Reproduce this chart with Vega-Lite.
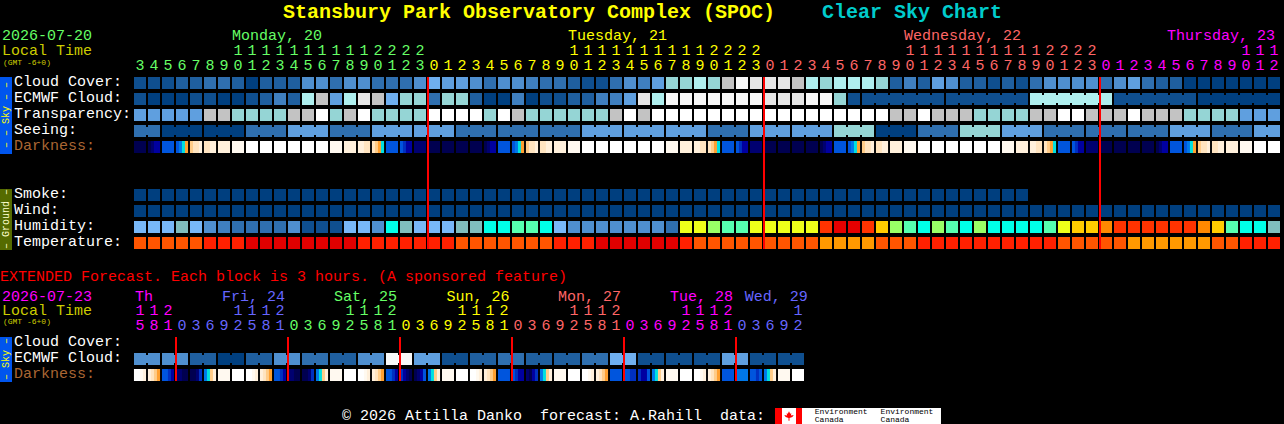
{
"$schema":"https://vega.github.io/schema/vega-lite/v6.json",
"width":1284,"height":424,
"autosize":{"type":"fit","contains":"padding"},
"padding":0,
"background":"#000000",
"config":{"view":{"stroke":null},"text":{"font":"Liberation Mono"}},
"encoding":{
"x":{"field":"col","type":"quantitative","axis":null,"scale":{"domain":[-10,81.7143],"zero":false,"nice":false}},
"y":{"field":"row","type":"quantitative","axis":null,"scale":{"domain":[-0.1875,26.3125],"zero":false,"nice":false,"reverse":true}},
"color":{"field":"lvl","type":"nominal","legend":null,"scale":{
"domain":["b0","b1","b2","b3","b4","b5","b6","b7","tl","t","g","gl","f","w","h7","ht","hc","hg","hl","hy","ha","hn","ho","hr","o","r1","r2","a","d0","d1","d2","d3","d4","d5","d6","d7","d8","d9","d10","d11","mon","tue","wed","thu","fri","cyan","amber","brown","red","black","white","sky","olive","pale"],
"range":["#003F7F","#0F4F8F","#1F5F9F","#2F6FAF","#3F7FBF","#4F8FCF","#5F9FDF","#6FAFEF","#AFEFEF","#95D5D5","#C3C3C3","#E6E6E6","#F8F8F8","#FFFFFF","#78B8F8","#80BEBE","#00FFE8","#55FFB0","#99FF66","#EEFF1A","#FFCC00","#FF8800","#FF3300","#E60000","#FF5500","#FF2000","#E00000","#FF9900","#000050","#000070","#0000A0","#0030C0","#0055DD","#0078E8","#00E0E0","#FFA030","#FFCC88","#FFE4C0","#FFF0DC","#FFF9F0","#66FF66","#FFFF00","#FF6666","#FF00FF","#6666FF","#00CCCC","#CCCC00","#AA6633","#FF0000","#000000","#FFFFFF","#0055EE","#556B00","#FFFFCC"]}}
},
"layer":[
{"data":{"name":"bands"},"mark":{"type":"rect","width":12},"encoding":{"y2":{"field":"end"}}},
{"data":{"name":"blocks"},"mark":{"type":"rect","width":12,"height":12}},
{"data":{"name":"blocks"},"transform":[{"filter":"datum.link"}],"mark":{"type":"rect","width":2.2,"height":8,"xOffset":7}},
{"data":{"name":"shades"},"mark":{"type":"rect","width":3.1,"height":12}},
{"data":{"name":"midnights"},"mark":{"type":"rule","strokeWidth":2,"xOffset":-6},"encoding":{"y2":{"field":"end"}}},
{"data":{"name":"logo"},"mark":{"type":"rect"},"encoding":{"x2":{"field":"colEnd"},"y2":{"field":"end"}}},
{"data":{"values":[{"col":46.357,"row":25.8125,"lvl":"red"}]},"mark":{"type":"point","filled":true,"opacity":1,"size":90,"shape":"M0,-1L.25,-.5L.5,-.6L.4,-.1L1,-.2L.7,.2L.1,.4L.1,1L-.1,1L-.1,.4L-.7,.2L-1,-.2L-.4,-.1L-.5,-.6L-.25,-.5Z"}},
{"data":{"name":"ticks"},"mark":{"type":"text","align":"center","baseline":"middle","fontSize":15},"encoding":{"text":{"field":"txt"}}},
{"data":{"name":"labels"},"mark":{"type":"text","align":"left","baseline":"middle","fontSize":15},"encoding":{"text":{"field":"txt"}}},
{"data":{"name":"titles"},"mark":{"type":"text","align":"left","baseline":"middle","fontSize":20,"fontWeight":"bold"},"encoding":{"text":{"field":"txt"}}},
{"data":{"name":"small"},"mark":{"type":"text","align":"left","baseline":"middle","fontSize":8},"encoding":{"text":{"field":"txt"}}},
{"data":{"name":"sideText"},"mark":{"type":"text","align":"center","baseline":"middle","angle":270,"fontSize":10},"encoding":{"text":{"field":"txt"}}}
],
"datasets":{
"bands":[
{"col":-9.571,"row":4.625,"end":9.44,"lvl":"sky"},
{"col":-9.571,"row":11.625,"end":15.44,"lvl":"olive"},
{"col":-9.571,"row":20.875,"end":23.69,"lvl":"sky"}
],
"midnights":[
{"col":21,"row":4.625,"end":15.375,"lvl":"red"},
{"col":45,"row":4.625,"end":15.375,"lvl":"red"},
{"col":69,"row":4.625,"end":15.375,"lvl":"red"},
{"col":3,"row":20.875,"end":23.625,"lvl":"red"},
{"col":11,"row":20.875,"end":23.625,"lvl":"red"},
{"col":19,"row":20.875,"end":23.625,"lvl":"red"},
{"col":27,"row":20.875,"end":23.625,"lvl":"red"},
{"col":35,"row":20.875,"end":23.625,"lvl":"red"},
{"col":43,"row":20.875,"end":23.625,"lvl":"red"}
],
"logo":[
{"col":45.357,"colEnd":57.214,"row":25.3125,"end":26.3125,"lvl":"white"},
{"col":45.357,"colEnd":45.857,"row":25.3125,"end":26.3125,"lvl":"red"},
{"col":46.857,"colEnd":47.286,"row":25.3125,"end":26.3125,"lvl":"red"}
],
"titles":[
{"col":10.21,"row":0.56,"txt":"Stansbury Park Observatory Complex (SPOC)","lvl":"tue"},
{"col":48.71,"row":0.56,"txt":"Clear Sky Chart","lvl":"cyan"}
],
"labels":[
{"col":-9.86,"row":2,"txt":"2026-07-20","lvl":"mon"},
{"col":-9.86,"row":2.94,"txt":"Local Time","lvl":"amber"},
{"col":6.57,"row":2,"txt":"Monday, 20","lvl":"mon"},
{"col":30.57,"row":2,"txt":"Tuesday, 21","lvl":"tue"},
{"col":54.57,"row":2,"txt":"Wednesday, 22","lvl":"wed"},
{"col":73.36,"row":2,"txt":"Thursday, 23","lvl":"thu"},
{"col":-9,"row":4.9,"txt":"Cloud Cover:","lvl":"white"},
{"col":-9,"row":5.9,"txt":"ECMWF Cloud:","lvl":"white"},
{"col":-9,"row":6.9,"txt":"Transparency:","lvl":"white"},
{"col":-9,"row":7.9,"txt":"Seeing:","lvl":"white"},
{"col":-9,"row":8.9,"txt":"Darkness:","lvl":"brown"},
{"col":-9,"row":11.9,"txt":"Smoke:","lvl":"white"},
{"col":-9,"row":12.9,"txt":"Wind:","lvl":"white"},
{"col":-9,"row":13.9,"txt":"Humidity:","lvl":"white"},
{"col":-9,"row":14.9,"txt":"Temperature:","lvl":"white"},
{"col":-10,"row":17.06,"txt":"EXTENDED Forecast. Each block is 3 hours. (A sponsored feature)","lvl":"red"},
{"col":-9.86,"row":18.3,"txt":"2026-07-23","lvl":"thu"},
{"col":-9.86,"row":19.19,"txt":"Local Time","lvl":"amber"},
{"col":-0.36,"row":18.3,"txt":"Th","lvl":"thu"},
{"col":5.86,"row":18.3,"txt":"Fri, 24","lvl":"fri"},
{"col":13.86,"row":18.3,"txt":"Sat, 25","lvl":"mon"},
{"col":21.9,"row":18.3,"txt":"Sun, 26","lvl":"tue"},
{"col":29.86,"row":18.3,"txt":"Mon, 27","lvl":"wed"},
{"col":37.86,"row":18.3,"txt":"Tue, 28","lvl":"thu"},
{"col":43.2,"row":18.3,"txt":"Wed, 29","lvl":"fri"},
{"col":-9,"row":21.15,"txt":"Cloud Cover:","lvl":"white"},
{"col":-9,"row":22.15,"txt":"ECMWF Cloud:","lvl":"white"},
{"col":-9,"row":23.15,"txt":"Darkness:","lvl":"brown"},
{"col":14.43,"row":25.78,"txt":"© 2026 Attilla Danko\u00a0\u00a0forecast: A.Rahill\u00a0\u00a0data:","lvl":"white"}
],
"small":[
{"col":-9.79,"row":3.72,"txt":"(GMT -6+0)","lvl":"amber"},
{"col":-9.79,"row":19.96,"txt":"(GMT -6+0)","lvl":"amber"},
{"col":48.2,"row":25.56,"txt":"Environment","lvl":"black"},
{"col":48.2,"row":26.06,"txt":"Canada","lvl":"black"},
{"col":52.9,"row":25.56,"txt":"Environment","lvl":"black"},
{"col":52.9,"row":26.06,"txt":"Canada","lvl":"black"}
],
"sideText":[
{"col":-9.571,"row":7,"txt":"– – Sky – –","lvl":"tue"},
{"col":-9.571,"row":13.5,"txt":"– Ground –","lvl":"pale"},
{"col":-9.571,"row":22.25,"txt":"– Sky –","lvl":"tue"}
],
"ticks":[
{"col":7,"row":2.94,"txt":"1","lvl":"mon"},{"col":8,"row":2.94,"txt":"1","lvl":"mon"},{"col":9,"row":2.94,"txt":"1","lvl":"mon"},{"col":10,"row":2.94,"txt":"1","lvl":"mon"},{"col":11,"row":2.94,"txt":"1","lvl":"mon"},{"col":12,"row":2.94,"txt":"1","lvl":"mon"},{"col":13,"row":2.94,"txt":"1","lvl":"mon"},{"col":14,"row":2.94,"txt":"1","lvl":"mon"},{"col":15,"row":2.94,"txt":"1","lvl":"mon"},{"col":16,"row":2.94,"txt":"1","lvl":"mon"},{"col":17,"row":2.94,"txt":"2","lvl":"mon"},{"col":18,"row":2.94,"txt":"2","lvl":"mon"},{"col":19,"row":2.94,"txt":"2","lvl":"mon"},{"col":20,"row":2.94,"txt":"2","lvl":"mon"},
{"col":31,"row":2.94,"txt":"1","lvl":"tue"},{"col":32,"row":2.94,"txt":"1","lvl":"tue"},{"col":33,"row":2.94,"txt":"1","lvl":"tue"},{"col":34,"row":2.94,"txt":"1","lvl":"tue"},{"col":35,"row":2.94,"txt":"1","lvl":"tue"},{"col":36,"row":2.94,"txt":"1","lvl":"tue"},{"col":37,"row":2.94,"txt":"1","lvl":"tue"},{"col":38,"row":2.94,"txt":"1","lvl":"tue"},{"col":39,"row":2.94,"txt":"1","lvl":"tue"},{"col":40,"row":2.94,"txt":"1","lvl":"tue"},{"col":41,"row":2.94,"txt":"2","lvl":"tue"},{"col":42,"row":2.94,"txt":"2","lvl":"tue"},{"col":43,"row":2.94,"txt":"2","lvl":"tue"},{"col":44,"row":2.94,"txt":"2","lvl":"tue"},
{"col":55,"row":2.94,"txt":"1","lvl":"wed"},{"col":56,"row":2.94,"txt":"1","lvl":"wed"},{"col":57,"row":2.94,"txt":"1","lvl":"wed"},{"col":58,"row":2.94,"txt":"1","lvl":"wed"},{"col":59,"row":2.94,"txt":"1","lvl":"wed"},{"col":60,"row":2.94,"txt":"1","lvl":"wed"},{"col":61,"row":2.94,"txt":"1","lvl":"wed"},{"col":62,"row":2.94,"txt":"1","lvl":"wed"},{"col":63,"row":2.94,"txt":"1","lvl":"wed"},{"col":64,"row":2.94,"txt":"1","lvl":"wed"},{"col":65,"row":2.94,"txt":"2","lvl":"wed"},{"col":66,"row":2.94,"txt":"2","lvl":"wed"},{"col":67,"row":2.94,"txt":"2","lvl":"wed"},{"col":68,"row":2.94,"txt":"2","lvl":"wed"},
{"col":79,"row":2.94,"txt":"1","lvl":"thu"},{"col":80,"row":2.94,"txt":"1","lvl":"thu"},{"col":81,"row":2.94,"txt":"1","lvl":"thu"},
{"col":0,"row":3.875,"txt":"3","lvl":"mon"},{"col":1,"row":3.875,"txt":"4","lvl":"mon"},{"col":2,"row":3.875,"txt":"5","lvl":"mon"},{"col":3,"row":3.875,"txt":"6","lvl":"mon"},{"col":4,"row":3.875,"txt":"7","lvl":"mon"},{"col":5,"row":3.875,"txt":"8","lvl":"mon"},{"col":6,"row":3.875,"txt":"9","lvl":"mon"},{"col":7,"row":3.875,"txt":"0","lvl":"mon"},{"col":8,"row":3.875,"txt":"1","lvl":"mon"},{"col":9,"row":3.875,"txt":"2","lvl":"mon"},{"col":10,"row":3.875,"txt":"3","lvl":"mon"},{"col":11,"row":3.875,"txt":"4","lvl":"mon"},{"col":12,"row":3.875,"txt":"5","lvl":"mon"},{"col":13,"row":3.875,"txt":"6","lvl":"mon"},{"col":14,"row":3.875,"txt":"7","lvl":"mon"},{"col":15,"row":3.875,"txt":"8","lvl":"mon"},{"col":16,"row":3.875,"txt":"9","lvl":"mon"},{"col":17,"row":3.875,"txt":"0","lvl":"mon"},{"col":18,"row":3.875,"txt":"1","lvl":"mon"},{"col":19,"row":3.875,"txt":"2","lvl":"mon"},{"col":20,"row":3.875,"txt":"3","lvl":"mon"},
{"col":21,"row":3.875,"txt":"0","lvl":"tue"},{"col":22,"row":3.875,"txt":"1","lvl":"tue"},{"col":23,"row":3.875,"txt":"2","lvl":"tue"},{"col":24,"row":3.875,"txt":"3","lvl":"tue"},{"col":25,"row":3.875,"txt":"4","lvl":"tue"},{"col":26,"row":3.875,"txt":"5","lvl":"tue"},{"col":27,"row":3.875,"txt":"6","lvl":"tue"},{"col":28,"row":3.875,"txt":"7","lvl":"tue"},{"col":29,"row":3.875,"txt":"8","lvl":"tue"},{"col":30,"row":3.875,"txt":"9","lvl":"tue"},{"col":31,"row":3.875,"txt":"0","lvl":"tue"},{"col":32,"row":3.875,"txt":"1","lvl":"tue"},{"col":33,"row":3.875,"txt":"2","lvl":"tue"},{"col":34,"row":3.875,"txt":"3","lvl":"tue"},{"col":35,"row":3.875,"txt":"4","lvl":"tue"},{"col":36,"row":3.875,"txt":"5","lvl":"tue"},{"col":37,"row":3.875,"txt":"6","lvl":"tue"},{"col":38,"row":3.875,"txt":"7","lvl":"tue"},{"col":39,"row":3.875,"txt":"8","lvl":"tue"},{"col":40,"row":3.875,"txt":"9","lvl":"tue"},{"col":41,"row":3.875,"txt":"0","lvl":"tue"},{"col":42,"row":3.875,"txt":"1","lvl":"tue"},{"col":43,"row":3.875,"txt":"2","lvl":"tue"},{"col":44,"row":3.875,"txt":"3","lvl":"tue"},
{"col":45,"row":3.875,"txt":"0","lvl":"wed"},{"col":46,"row":3.875,"txt":"1","lvl":"wed"},{"col":47,"row":3.875,"txt":"2","lvl":"wed"},{"col":48,"row":3.875,"txt":"3","lvl":"wed"},{"col":49,"row":3.875,"txt":"4","lvl":"wed"},{"col":50,"row":3.875,"txt":"5","lvl":"wed"},{"col":51,"row":3.875,"txt":"6","lvl":"wed"},{"col":52,"row":3.875,"txt":"7","lvl":"wed"},{"col":53,"row":3.875,"txt":"8","lvl":"wed"},{"col":54,"row":3.875,"txt":"9","lvl":"wed"},{"col":55,"row":3.875,"txt":"0","lvl":"wed"},{"col":56,"row":3.875,"txt":"1","lvl":"wed"},{"col":57,"row":3.875,"txt":"2","lvl":"wed"},{"col":58,"row":3.875,"txt":"3","lvl":"wed"},{"col":59,"row":3.875,"txt":"4","lvl":"wed"},{"col":60,"row":3.875,"txt":"5","lvl":"wed"},{"col":61,"row":3.875,"txt":"6","lvl":"wed"},{"col":62,"row":3.875,"txt":"7","lvl":"wed"},{"col":63,"row":3.875,"txt":"8","lvl":"wed"},{"col":64,"row":3.875,"txt":"9","lvl":"wed"},{"col":65,"row":3.875,"txt":"0","lvl":"wed"},{"col":66,"row":3.875,"txt":"1","lvl":"wed"},{"col":67,"row":3.875,"txt":"2","lvl":"wed"},{"col":68,"row":3.875,"txt":"3","lvl":"wed"},
{"col":69,"row":3.875,"txt":"0","lvl":"thu"},{"col":70,"row":3.875,"txt":"1","lvl":"thu"},{"col":71,"row":3.875,"txt":"2","lvl":"thu"},{"col":72,"row":3.875,"txt":"3","lvl":"thu"},{"col":73,"row":3.875,"txt":"4","lvl":"thu"},{"col":74,"row":3.875,"txt":"5","lvl":"thu"},{"col":75,"row":3.875,"txt":"6","lvl":"thu"},{"col":76,"row":3.875,"txt":"7","lvl":"thu"},{"col":77,"row":3.875,"txt":"8","lvl":"thu"},{"col":78,"row":3.875,"txt":"9","lvl":"thu"},{"col":79,"row":3.875,"txt":"0","lvl":"thu"},{"col":80,"row":3.875,"txt":"1","lvl":"thu"},{"col":81,"row":3.875,"txt":"2","lvl":"thu"},
{"col":0,"row":19.19,"txt":"1","lvl":"thu"},{"col":1,"row":19.19,"txt":"1","lvl":"thu"},{"col":2,"row":19.19,"txt":"2","lvl":"thu"},
{"col":7,"row":19.19,"txt":"1","lvl":"fri"},{"col":8,"row":19.19,"txt":"1","lvl":"fri"},{"col":9,"row":19.19,"txt":"1","lvl":"fri"},{"col":10,"row":19.19,"txt":"2","lvl":"fri"},
{"col":15,"row":19.19,"txt":"1","lvl":"mon"},{"col":16,"row":19.19,"txt":"1","lvl":"mon"},{"col":17,"row":19.19,"txt":"1","lvl":"mon"},{"col":18,"row":19.19,"txt":"2","lvl":"mon"},
{"col":23,"row":19.19,"txt":"1","lvl":"tue"},{"col":24,"row":19.19,"txt":"1","lvl":"tue"},{"col":25,"row":19.19,"txt":"1","lvl":"tue"},{"col":26,"row":19.19,"txt":"2","lvl":"tue"},
{"col":31,"row":19.19,"txt":"1","lvl":"wed"},{"col":32,"row":19.19,"txt":"1","lvl":"wed"},{"col":33,"row":19.19,"txt":"1","lvl":"wed"},{"col":34,"row":19.19,"txt":"2","lvl":"wed"},
{"col":39,"row":19.19,"txt":"1","lvl":"thu"},{"col":40,"row":19.19,"txt":"1","lvl":"thu"},{"col":41,"row":19.19,"txt":"1","lvl":"thu"},{"col":42,"row":19.19,"txt":"2","lvl":"thu"},
{"col":47,"row":19.19,"txt":"1","lvl":"fri"},
{"col":0,"row":20.125,"txt":"5","lvl":"thu"},{"col":1,"row":20.125,"txt":"8","lvl":"thu"},{"col":2,"row":20.125,"txt":"1","lvl":"thu"},
{"col":3,"row":20.125,"txt":"0","lvl":"fri"},{"col":4,"row":20.125,"txt":"3","lvl":"fri"},{"col":5,"row":20.125,"txt":"6","lvl":"fri"},{"col":6,"row":20.125,"txt":"9","lvl":"fri"},{"col":7,"row":20.125,"txt":"2","lvl":"fri"},{"col":8,"row":20.125,"txt":"5","lvl":"fri"},{"col":9,"row":20.125,"txt":"8","lvl":"fri"},{"col":10,"row":20.125,"txt":"1","lvl":"fri"},
{"col":11,"row":20.125,"txt":"0","lvl":"mon"},{"col":12,"row":20.125,"txt":"3","lvl":"mon"},{"col":13,"row":20.125,"txt":"6","lvl":"mon"},{"col":14,"row":20.125,"txt":"9","lvl":"mon"},{"col":15,"row":20.125,"txt":"2","lvl":"mon"},{"col":16,"row":20.125,"txt":"5","lvl":"mon"},{"col":17,"row":20.125,"txt":"8","lvl":"mon"},{"col":18,"row":20.125,"txt":"1","lvl":"mon"},
{"col":19,"row":20.125,"txt":"0","lvl":"tue"},{"col":20,"row":20.125,"txt":"3","lvl":"tue"},{"col":21,"row":20.125,"txt":"6","lvl":"tue"},{"col":22,"row":20.125,"txt":"9","lvl":"tue"},{"col":23,"row":20.125,"txt":"2","lvl":"tue"},{"col":24,"row":20.125,"txt":"5","lvl":"tue"},{"col":25,"row":20.125,"txt":"8","lvl":"tue"},{"col":26,"row":20.125,"txt":"1","lvl":"tue"},
{"col":27,"row":20.125,"txt":"0","lvl":"wed"},{"col":28,"row":20.125,"txt":"3","lvl":"wed"},{"col":29,"row":20.125,"txt":"6","lvl":"wed"},{"col":30,"row":20.125,"txt":"9","lvl":"wed"},{"col":31,"row":20.125,"txt":"2","lvl":"wed"},{"col":32,"row":20.125,"txt":"5","lvl":"wed"},{"col":33,"row":20.125,"txt":"8","lvl":"wed"},{"col":34,"row":20.125,"txt":"1","lvl":"wed"},
{"col":35,"row":20.125,"txt":"0","lvl":"thu"},{"col":36,"row":20.125,"txt":"3","lvl":"thu"},{"col":37,"row":20.125,"txt":"6","lvl":"thu"},{"col":38,"row":20.125,"txt":"9","lvl":"thu"},{"col":39,"row":20.125,"txt":"2","lvl":"thu"},{"col":40,"row":20.125,"txt":"5","lvl":"thu"},{"col":41,"row":20.125,"txt":"8","lvl":"thu"},{"col":42,"row":20.125,"txt":"1","lvl":"thu"},
{"col":43,"row":20.125,"txt":"0","lvl":"fri"},{"col":44,"row":20.125,"txt":"3","lvl":"fri"},{"col":45,"row":20.125,"txt":"6","lvl":"fri"},{"col":46,"row":20.125,"txt":"9","lvl":"fri"},{"col":47,"row":20.125,"txt":"2","lvl":"fri"}
],
"shades":[
{"col":0.679,"row":9,"lvl":"d0"},{"col":0.893,"row":9,"lvl":"d1"},{"col":1.107,"row":9,"lvl":"d2"},{"col":1.321,"row":9,"lvl":"d2"},
{"col":2.679,"row":9,"lvl":"d4"},{"col":2.893,"row":9,"lvl":"d5"},{"col":3.107,"row":9,"lvl":"d6"},{"col":3.321,"row":9,"lvl":"d7"},
{"col":3.679,"row":9,"lvl":"d8"},{"col":3.893,"row":9,"lvl":"d9"},{"col":4.107,"row":9,"lvl":"d9"},{"col":4.321,"row":9,"lvl":"d10"},
{"col":4.679,"row":9,"lvl":"d9"},{"col":4.893,"row":9,"lvl":"d9"},{"col":5.107,"row":9,"lvl":"d10"},{"col":5.321,"row":9,"lvl":"d10"},
{"col":15.679,"row":9,"lvl":"d10"},{"col":15.893,"row":9,"lvl":"d10"},{"col":16.107,"row":9,"lvl":"d9"},{"col":16.321,"row":9,"lvl":"d9"},
{"col":16.679,"row":9,"lvl":"d9"},{"col":16.893,"row":9,"lvl":"d8"},{"col":17.107,"row":9,"lvl":"d7"},{"col":17.321,"row":9,"lvl":"d6"},
{"col":18.679,"row":9,"lvl":"d4"},{"col":18.893,"row":9,"lvl":"d3"},{"col":19.107,"row":9,"lvl":"d2"},{"col":19.321,"row":9,"lvl":"d2"},
{"col":24.679,"row":9,"lvl":"d0"},{"col":24.893,"row":9,"lvl":"d1"},{"col":25.107,"row":9,"lvl":"d2"},{"col":25.321,"row":9,"lvl":"d2"},
{"col":26.679,"row":9,"lvl":"d4"},{"col":26.893,"row":9,"lvl":"d5"},{"col":27.107,"row":9,"lvl":"d6"},{"col":27.321,"row":9,"lvl":"d7"},
{"col":27.679,"row":9,"lvl":"d8"},{"col":27.893,"row":9,"lvl":"d9"},{"col":28.107,"row":9,"lvl":"d9"},{"col":28.321,"row":9,"lvl":"d10"},
{"col":28.679,"row":9,"lvl":"d9"},{"col":28.893,"row":9,"lvl":"d9"},{"col":29.107,"row":9,"lvl":"d10"},{"col":29.321,"row":9,"lvl":"d10"},
{"col":39.679,"row":9,"lvl":"d10"},{"col":39.893,"row":9,"lvl":"d10"},{"col":40.107,"row":9,"lvl":"d9"},{"col":40.321,"row":9,"lvl":"d9"},
{"col":40.679,"row":9,"lvl":"d9"},{"col":40.893,"row":9,"lvl":"d8"},{"col":41.107,"row":9,"lvl":"d7"},{"col":41.321,"row":9,"lvl":"d6"},
{"col":42.679,"row":9,"lvl":"d4"},{"col":42.893,"row":9,"lvl":"d3"},{"col":43.107,"row":9,"lvl":"d2"},{"col":43.321,"row":9,"lvl":"d2"},
{"col":48.679,"row":9,"lvl":"d0"},{"col":48.893,"row":9,"lvl":"d1"},{"col":49.107,"row":9,"lvl":"d2"},{"col":49.321,"row":9,"lvl":"d2"},
{"col":50.679,"row":9,"lvl":"d4"},{"col":50.893,"row":9,"lvl":"d5"},{"col":51.107,"row":9,"lvl":"d6"},{"col":51.321,"row":9,"lvl":"d7"},
{"col":51.679,"row":9,"lvl":"d8"},{"col":51.893,"row":9,"lvl":"d9"},{"col":52.107,"row":9,"lvl":"d9"},{"col":52.321,"row":9,"lvl":"d10"},
{"col":52.679,"row":9,"lvl":"d9"},{"col":52.893,"row":9,"lvl":"d9"},{"col":53.107,"row":9,"lvl":"d10"},{"col":53.321,"row":9,"lvl":"d10"},
{"col":63.679,"row":9,"lvl":"d10"},{"col":63.893,"row":9,"lvl":"d10"},{"col":64.107,"row":9,"lvl":"d9"},{"col":64.321,"row":9,"lvl":"d9"},
{"col":64.679,"row":9,"lvl":"d9"},{"col":64.893,"row":9,"lvl":"d8"},{"col":65.107,"row":9,"lvl":"d7"},{"col":65.321,"row":9,"lvl":"d6"},
{"col":66.679,"row":9,"lvl":"d4"},{"col":66.893,"row":9,"lvl":"d3"},{"col":67.107,"row":9,"lvl":"d2"},{"col":67.321,"row":9,"lvl":"d2"},
{"col":72.679,"row":9,"lvl":"d0"},{"col":72.893,"row":9,"lvl":"d1"},{"col":73.107,"row":9,"lvl":"d2"},{"col":73.321,"row":9,"lvl":"d2"},
{"col":74.679,"row":9,"lvl":"d4"},{"col":74.893,"row":9,"lvl":"d5"},{"col":75.107,"row":9,"lvl":"d6"},{"col":75.321,"row":9,"lvl":"d7"},
{"col":75.679,"row":9,"lvl":"d8"},{"col":75.893,"row":9,"lvl":"d9"},{"col":76.107,"row":9,"lvl":"d9"},{"col":76.321,"row":9,"lvl":"d10"},
{"col":76.679,"row":9,"lvl":"d9"},{"col":76.893,"row":9,"lvl":"d9"},{"col":77.107,"row":9,"lvl":"d10"},{"col":77.321,"row":9,"lvl":"d10"},
{"col":-0.321,"row":23.25,"lvl":"w"},{"col":-0.107,"row":23.25,"lvl":"w"},{"col":0.107,"row":23.25,"lvl":"d11"},{"col":0.321,"row":23.25,"lvl":"d10"},
{"col":0.679,"row":23.25,"lvl":"d10"},{"col":0.893,"row":23.25,"lvl":"d9"},{"col":1.107,"row":23.25,"lvl":"d8"},{"col":1.321,"row":23.25,"lvl":"d7"},
{"col":1.679,"row":23.25,"lvl":"d4"},{"col":1.893,"row":23.25,"lvl":"d4"},{"col":2.107,"row":23.25,"lvl":"d3"},{"col":2.321,"row":23.25,"lvl":"d2"},
{"col":2.679,"row":23.25,"lvl":"d1"},{"col":2.893,"row":23.25,"lvl":"d1"},{"col":3.107,"row":23.25,"lvl":"d0"},{"col":3.321,"row":23.25,"lvl":"d0"},
{"col":3.679,"row":23.25,"lvl":"d0"},{"col":3.893,"row":23.25,"lvl":"d0"},{"col":4.107,"row":23.25,"lvl":"d1"},{"col":4.321,"row":23.25,"lvl":"d3"},
{"col":4.679,"row":23.25,"lvl":"d5"},{"col":4.893,"row":23.25,"lvl":"d6"},{"col":5.107,"row":23.25,"lvl":"d8"},{"col":5.321,"row":23.25,"lvl":"d10"},
{"col":7.679,"row":23.25,"lvl":"w"},{"col":7.893,"row":23.25,"lvl":"w"},{"col":8.107,"row":23.25,"lvl":"d11"},{"col":8.321,"row":23.25,"lvl":"d10"},
{"col":8.679,"row":23.25,"lvl":"d10"},{"col":8.893,"row":23.25,"lvl":"d9"},{"col":9.107,"row":23.25,"lvl":"d8"},{"col":9.321,"row":23.25,"lvl":"d7"},
{"col":9.679,"row":23.25,"lvl":"d4"},{"col":9.893,"row":23.25,"lvl":"d4"},{"col":10.107,"row":23.25,"lvl":"d3"},{"col":10.321,"row":23.25,"lvl":"d2"},
{"col":10.679,"row":23.25,"lvl":"d1"},{"col":10.893,"row":23.25,"lvl":"d1"},{"col":11.107,"row":23.25,"lvl":"d0"},{"col":11.321,"row":23.25,"lvl":"d0"},
{"col":11.679,"row":23.25,"lvl":"d0"},{"col":11.893,"row":23.25,"lvl":"d0"},{"col":12.107,"row":23.25,"lvl":"d1"},{"col":12.321,"row":23.25,"lvl":"d3"},
{"col":12.679,"row":23.25,"lvl":"d5"},{"col":12.893,"row":23.25,"lvl":"d6"},{"col":13.107,"row":23.25,"lvl":"d8"},{"col":13.321,"row":23.25,"lvl":"d10"},
{"col":15.679,"row":23.25,"lvl":"w"},{"col":15.893,"row":23.25,"lvl":"w"},{"col":16.107,"row":23.25,"lvl":"d11"},{"col":16.321,"row":23.25,"lvl":"d10"},
{"col":16.679,"row":23.25,"lvl":"d10"},{"col":16.893,"row":23.25,"lvl":"d9"},{"col":17.107,"row":23.25,"lvl":"d8"},{"col":17.321,"row":23.25,"lvl":"d7"},
{"col":17.679,"row":23.25,"lvl":"d4"},{"col":17.893,"row":23.25,"lvl":"d4"},{"col":18.107,"row":23.25,"lvl":"d3"},{"col":18.321,"row":23.25,"lvl":"d2"},
{"col":18.679,"row":23.25,"lvl":"d3"},{"col":18.893,"row":23.25,"lvl":"d2"},{"col":19.107,"row":23.25,"lvl":"d1"},{"col":19.321,"row":23.25,"lvl":"d0"},
{"col":19.679,"row":23.25,"lvl":"d0"},{"col":19.893,"row":23.25,"lvl":"d1"},{"col":20.107,"row":23.25,"lvl":"d2"},{"col":20.321,"row":23.25,"lvl":"d4"},
{"col":20.679,"row":23.25,"lvl":"d5"},{"col":20.893,"row":23.25,"lvl":"d6"},{"col":21.107,"row":23.25,"lvl":"d8"},{"col":21.321,"row":23.25,"lvl":"d10"},
{"col":23.679,"row":23.25,"lvl":"w"},{"col":23.893,"row":23.25,"lvl":"w"},{"col":24.107,"row":23.25,"lvl":"d11"},{"col":24.321,"row":23.25,"lvl":"d10"},
{"col":24.679,"row":23.25,"lvl":"d10"},{"col":24.893,"row":23.25,"lvl":"d9"},{"col":25.107,"row":23.25,"lvl":"d8"},{"col":25.321,"row":23.25,"lvl":"d7"},
{"col":26.679,"row":23.25,"lvl":"d4"},{"col":26.893,"row":23.25,"lvl":"d3"},{"col":27.107,"row":23.25,"lvl":"d2"},{"col":27.321,"row":23.25,"lvl":"d2"},
{"col":27.679,"row":23.25,"lvl":"d1"},{"col":27.893,"row":23.25,"lvl":"d0"},{"col":28.107,"row":23.25,"lvl":"d2"},{"col":28.321,"row":23.25,"lvl":"d3"},
{"col":28.679,"row":23.25,"lvl":"d5"},{"col":28.893,"row":23.25,"lvl":"d6"},{"col":29.107,"row":23.25,"lvl":"d8"},{"col":29.321,"row":23.25,"lvl":"d10"},
{"col":31.679,"row":23.25,"lvl":"w"},{"col":31.893,"row":23.25,"lvl":"w"},{"col":32.107,"row":23.25,"lvl":"d11"},{"col":32.321,"row":23.25,"lvl":"d10"},
{"col":32.679,"row":23.25,"lvl":"d10"},{"col":32.893,"row":23.25,"lvl":"d9"},{"col":33.107,"row":23.25,"lvl":"d8"},{"col":33.321,"row":23.25,"lvl":"d7"},
{"col":34.679,"row":23.25,"lvl":"d4"},{"col":34.893,"row":23.25,"lvl":"d4"},{"col":35.107,"row":23.25,"lvl":"d3"},{"col":35.321,"row":23.25,"lvl":"d3"},
{"col":35.679,"row":23.25,"lvl":"d3"},{"col":35.893,"row":23.25,"lvl":"d2"},{"col":36.107,"row":23.25,"lvl":"d2"},{"col":36.321,"row":23.25,"lvl":"d4"},
{"col":36.679,"row":23.25,"lvl":"d5"},{"col":36.893,"row":23.25,"lvl":"d6"},{"col":37.107,"row":23.25,"lvl":"d8"},{"col":37.321,"row":23.25,"lvl":"d10"},
{"col":39.679,"row":23.25,"lvl":"w"},{"col":39.893,"row":23.25,"lvl":"w"},{"col":40.107,"row":23.25,"lvl":"d11"},{"col":40.321,"row":23.25,"lvl":"d10"},
{"col":40.679,"row":23.25,"lvl":"d10"},{"col":40.893,"row":23.25,"lvl":"d9"},{"col":41.107,"row":23.25,"lvl":"d8"},{"col":41.321,"row":23.25,"lvl":"d7"},
{"col":43.679,"row":23.25,"lvl":"d4"},{"col":43.893,"row":23.25,"lvl":"d4"},{"col":44.107,"row":23.25,"lvl":"d3"},{"col":44.321,"row":23.25,"lvl":"d4"},
{"col":44.679,"row":23.25,"lvl":"d5"},{"col":44.893,"row":23.25,"lvl":"d6"},{"col":45.107,"row":23.25,"lvl":"d8"},{"col":45.321,"row":23.25,"lvl":"d10"}
],
"blocks":[
{"col":0,"row":5,"lvl":"b1"},{"col":1,"row":5,"lvl":"b1"},{"col":2,"row":5,"lvl":"b1"},{"col":3,"row":5,"lvl":"b2"},{"col":4,"row":5,"lvl":"b2"},{"col":5,"row":5,"lvl":"b3"},{"col":6,"row":5,"lvl":"b3"},{"col":7,"row":5,"lvl":"b2"},{"col":8,"row":5,"lvl":"b0"},{"col":9,"row":5,"lvl":"b2"},{"col":10,"row":5,"lvl":"b2"},{"col":11,"row":5,"lvl":"b2"},{"col":12,"row":5,"lvl":"b5"},{"col":13,"row":5,"lvl":"b5"},{"col":14,"row":5,"lvl":"b3"},{"col":15,"row":5,"lvl":"b5"},{"col":16,"row":5,"lvl":"b5"},{"col":17,"row":5,"lvl":"b3"},{"col":18,"row":5,"lvl":"b3"},{"col":19,"row":5,"lvl":"b3"},{"col":20,"row":5,"lvl":"b5"},{"col":21,"row":5,"lvl":"b7"},{"col":22,"row":5,"lvl":"b6"},{"col":23,"row":5,"lvl":"b6"},{"col":24,"row":5,"lvl":"b5"},{"col":25,"row":5,"lvl":"b3"},{"col":26,"row":5,"lvl":"b5"},{"col":27,"row":5,"lvl":"b5"},{"col":28,"row":5,"lvl":"b4"},{"col":29,"row":5,"lvl":"b3"},{"col":30,"row":5,"lvl":"b3"},{"col":31,"row":5,"lvl":"b2"},{"col":32,"row":5,"lvl":"b1"},{"col":33,"row":5,"lvl":"b1"},{"col":34,"row":5,"lvl":"b3"},{"col":35,"row":5,"lvl":"b5"},{"col":36,"row":5,"lvl":"b4"},{"col":37,"row":5,"lvl":"b6"},{"col":38,"row":5,"lvl":"t"},{"col":39,"row":5,"lvl":"t"},{"col":40,"row":5,"lvl":"tl"},{"col":41,"row":5,"lvl":"t"},{"col":42,"row":5,"lvl":"g"},{"col":43,"row":5,"lvl":"f"},{"col":44,"row":5,"lvl":"gl"},{"col":45,"row":5,"lvl":"gl"},{"col":46,"row":5,"lvl":"gl"},{"col":47,"row":5,"lvl":"g"},{"col":48,"row":5,"lvl":"tl"},{"col":49,"row":5,"lvl":"t"},{"col":50,"row":5,"lvl":"tl"},{"col":51,"row":5,"lvl":"tl"},{"col":52,"row":5,"lvl":"tl"},{"col":53,"row":5,"lvl":"t"},{"col":54,"row":5,"lvl":"b2"},{"col":55,"row":5,"lvl":"b4"},{"col":56,"row":5,"lvl":"b2"},{"col":57,"row":5,"lvl":"b6"},{"col":58,"row":5,"lvl":"b5"},{"col":59,"row":5,"lvl":"b2"},{"col":60,"row":5,"lvl":"b2"},{"col":61,"row":5,"lvl":"b1"},{"col":62,"row":5,"lvl":"b2"},{"col":63,"row":5,"lvl":"b1"},{"col":64,"row":5,"lvl":"b3"},{"col":65,"row":5,"lvl":"b5"},{"col":66,"row":5,"lvl":"b5"},{"col":67,"row":5,"lvl":"b5"},{"col":68,"row":5,"lvl":"b5"},{"col":69,"row":5,"lvl":"b3"},{"col":70,"row":5,"lvl":"b5"},{"col":71,"row":5,"lvl":"b6"},{"col":72,"row":5,"lvl":"b3"},{"col":73,"row":5,"lvl":"b2"},{"col":74,"row":5,"lvl":"b2"},{"col":75,"row":5,"lvl":"b0"},{"col":76,"row":5,"lvl":"b0"},{"col":77,"row":5,"lvl":"b0"},{"col":78,"row":5,"lvl":"b0"},{"col":79,"row":5,"lvl":"b0"},{"col":80,"row":5,"lvl":"b0"},{"col":81,"row":5,"lvl":"b0"},
{"col":0,"row":6,"lvl":"b1"},{"col":1,"row":6,"lvl":"b0"},{"col":2,"row":6,"lvl":"b0"},{"col":3,"row":6,"lvl":"b0"},{"col":4,"row":6,"lvl":"b1"},{"col":5,"row":6,"lvl":"b1"},{"col":6,"row":6,"lvl":"b0"},{"col":7,"row":6,"lvl":"b0"},{"col":8,"row":6,"lvl":"b1"},{"col":9,"row":6,"lvl":"b2"},{"col":10,"row":6,"lvl":"b4"},{"col":11,"row":6,"lvl":"b2"},{"col":12,"row":6,"lvl":"tl"},{"col":13,"row":6,"lvl":"g"},{"col":14,"row":6,"lvl":"b6"},{"col":15,"row":6,"lvl":"tl"},{"col":16,"row":6,"lvl":"gl"},{"col":17,"row":6,"lvl":"g"},{"col":18,"row":6,"lvl":"b7"},{"col":19,"row":6,"lvl":"t"},{"col":20,"row":6,"lvl":"t"},{"col":21,"row":6,"lvl":"b3"},{"col":22,"row":6,"lvl":"t"},{"col":23,"row":6,"lvl":"t"},{"col":24,"row":6,"lvl":"b2"},{"col":25,"row":6,"lvl":"b0"},{"col":26,"row":6,"lvl":"b0"},{"col":27,"row":6,"lvl":"b4"},{"col":28,"row":6,"lvl":"b0"},{"col":29,"row":6,"lvl":"b1"},{"col":30,"row":6,"lvl":"b1"},{"col":31,"row":6,"lvl":"b2"},{"col":32,"row":6,"lvl":"b2"},{"col":33,"row":6,"lvl":"b4"},{"col":34,"row":6,"lvl":"b4"},{"col":35,"row":6,"lvl":"b6"},{"col":36,"row":6,"lvl":"gl"},{"col":37,"row":6,"lvl":"tl"},{"col":38,"row":6,"lvl":"f"},{"col":39,"row":6,"lvl":"f"},{"col":40,"row":6,"lvl":"f"},{"col":41,"row":6,"lvl":"f"},{"col":42,"row":6,"lvl":"f"},{"col":43,"row":6,"lvl":"f"},{"col":44,"row":6,"lvl":"f"},{"col":45,"row":6,"lvl":"gl"},{"col":46,"row":6,"lvl":"gl"},{"col":47,"row":6,"lvl":"gl"},{"col":48,"row":6,"lvl":"f"},{"col":49,"row":6,"lvl":"f"},{"col":50,"row":6,"lvl":"t"},{"col":51,"row":6,"lvl":"b1"},
{"col":52,"row":6,"lvl":"b1","link":1},{"col":53,"row":6,"lvl":"b1","link":1},{"col":54,"row":6,"lvl":"b1","link":1},{"col":55,"row":6,"lvl":"b1","link":1},{"col":56,"row":6,"lvl":"b1","link":1},{"col":57,"row":6,"lvl":"b1"},{"col":58,"row":6,"lvl":"b1","link":1},{"col":59,"row":6,"lvl":"b1","link":1},{"col":60,"row":6,"lvl":"b1","link":1},{"col":61,"row":6,"lvl":"b1","link":1},{"col":62,"row":6,"lvl":"b1","link":1},{"col":63,"row":6,"lvl":"b1"},{"col":64,"row":6,"lvl":"tl","link":1},{"col":65,"row":6,"lvl":"tl","link":1},{"col":66,"row":6,"lvl":"tl","link":1},{"col":67,"row":6,"lvl":"tl","link":1},{"col":68,"row":6,"lvl":"tl","link":1},{"col":69,"row":6,"lvl":"tl"},{"col":70,"row":6,"lvl":"b1","link":1},{"col":71,"row":6,"lvl":"b1","link":1},{"col":72,"row":6,"lvl":"b1","link":1},{"col":73,"row":6,"lvl":"b1","link":1},{"col":74,"row":6,"lvl":"b1","link":1},{"col":75,"row":6,"lvl":"b1"},{"col":76,"row":6,"lvl":"b0","link":1},{"col":77,"row":6,"lvl":"b0","link":1},{"col":78,"row":6,"lvl":"b0","link":1},{"col":79,"row":6,"lvl":"b0","link":1},{"col":80,"row":6,"lvl":"b0","link":1},{"col":81,"row":6,"lvl":"b0"},
{"col":0,"row":7,"lvl":"b6"},{"col":1,"row":7,"lvl":"b6"},{"col":2,"row":7,"lvl":"b6"},{"col":3,"row":7,"lvl":"b6"},{"col":4,"row":7,"lvl":"b6"},{"col":5,"row":7,"lvl":"g"},{"col":6,"row":7,"lvl":"g"},{"col":7,"row":7,"lvl":"t"},{"col":8,"row":7,"lvl":"t"},{"col":9,"row":7,"lvl":"t"},{"col":10,"row":7,"lvl":"t"},{"col":11,"row":7,"lvl":"g"},{"col":12,"row":7,"lvl":"g"},{"col":13,"row":7,"lvl":"w"},{"col":14,"row":7,"lvl":"t"},{"col":15,"row":7,"lvl":"g"},{"col":16,"row":7,"lvl":"w"},{"col":17,"row":7,"lvl":"t"},{"col":18,"row":7,"lvl":"t"},{"col":19,"row":7,"lvl":"t"},{"col":20,"row":7,"lvl":"t"},{"col":21,"row":7,"lvl":"w"},{"col":22,"row":7,"lvl":"w"},{"col":23,"row":7,"lvl":"w"},{"col":24,"row":7,"lvl":"w"},{"col":25,"row":7,"lvl":"t"},{"col":26,"row":7,"lvl":"w"},{"col":27,"row":7,"lvl":"g"},{"col":28,"row":7,"lvl":"t"},{"col":29,"row":7,"lvl":"t"},{"col":30,"row":7,"lvl":"t"},{"col":31,"row":7,"lvl":"t"},{"col":32,"row":7,"lvl":"t"},{"col":33,"row":7,"lvl":"t"},{"col":34,"row":7,"lvl":"g"},{"col":35,"row":7,"lvl":"w"},{"col":36,"row":7,"lvl":"g"},{"col":37,"row":7,"lvl":"w"},{"col":38,"row":7,"lvl":"w"},{"col":39,"row":7,"lvl":"w"},{"col":40,"row":7,"lvl":"w"},{"col":41,"row":7,"lvl":"w"},{"col":42,"row":7,"lvl":"w"},{"col":43,"row":7,"lvl":"w"},{"col":44,"row":7,"lvl":"w"},{"col":45,"row":7,"lvl":"w"},{"col":46,"row":7,"lvl":"w"},{"col":47,"row":7,"lvl":"w"},{"col":48,"row":7,"lvl":"w"},{"col":49,"row":7,"lvl":"w"},{"col":50,"row":7,"lvl":"w"},{"col":51,"row":7,"lvl":"w"},{"col":52,"row":7,"lvl":"w"},{"col":53,"row":7,"lvl":"w"},{"col":54,"row":7,"lvl":"g"},{"col":55,"row":7,"lvl":"g"},{"col":56,"row":7,"lvl":"w"},{"col":57,"row":7,"lvl":"g"},{"col":58,"row":7,"lvl":"g"},{"col":59,"row":7,"lvl":"g"},{"col":60,"row":7,"lvl":"t"},{"col":61,"row":7,"lvl":"t"},{"col":62,"row":7,"lvl":"t"},{"col":63,"row":7,"lvl":"t"},{"col":64,"row":7,"lvl":"g"},{"col":65,"row":7,"lvl":"g"},{"col":66,"row":7,"lvl":"w"},{"col":67,"row":7,"lvl":"w"},{"col":68,"row":7,"lvl":"g"},{"col":69,"row":7,"lvl":"g"},{"col":70,"row":7,"lvl":"g"},{"col":71,"row":7,"lvl":"w"},{"col":72,"row":7,"lvl":"g"},{"col":73,"row":7,"lvl":"g"},{"col":74,"row":7,"lvl":"g"},{"col":75,"row":7,"lvl":"t"},{"col":76,"row":7,"lvl":"t"},{"col":77,"row":7,"lvl":"t"},{"col":78,"row":7,"lvl":"t"},{"col":79,"row":7,"lvl":"b6"},{"col":80,"row":7,"lvl":"b6"},{"col":81,"row":7,"lvl":"b6"},
{"col":0,"row":8,"lvl":"b3","link":1},{"col":1,"row":8,"lvl":"b3"},{"col":2,"row":8,"lvl":"b0","link":1},{"col":3,"row":8,"lvl":"b0","link":1},{"col":4,"row":8,"lvl":"b0"},{"col":5,"row":8,"lvl":"b0","link":1},{"col":6,"row":8,"lvl":"b0","link":1},{"col":7,"row":8,"lvl":"b0"},{"col":8,"row":8,"lvl":"b3","link":1},{"col":9,"row":8,"lvl":"b3","link":1},{"col":10,"row":8,"lvl":"b3"},{"col":11,"row":8,"lvl":"b6","link":1},{"col":12,"row":8,"lvl":"b6","link":1},{"col":13,"row":8,"lvl":"b6"},{"col":14,"row":8,"lvl":"b3","link":1},{"col":15,"row":8,"lvl":"b3","link":1},{"col":16,"row":8,"lvl":"b3"},{"col":17,"row":8,"lvl":"b6","link":1},{"col":18,"row":8,"lvl":"b6","link":1},{"col":19,"row":8,"lvl":"b6"},{"col":20,"row":8,"lvl":"b6","link":1},{"col":21,"row":8,"lvl":"b6","link":1},{"col":22,"row":8,"lvl":"b6"},{"col":23,"row":8,"lvl":"b3","link":1},{"col":24,"row":8,"lvl":"b3","link":1},{"col":25,"row":8,"lvl":"b3"},{"col":26,"row":8,"lvl":"b3","link":1},{"col":27,"row":8,"lvl":"b3","link":1},{"col":28,"row":8,"lvl":"b3"},{"col":29,"row":8,"lvl":"b3","link":1},{"col":30,"row":8,"lvl":"b3","link":1},{"col":31,"row":8,"lvl":"b3"},{"col":32,"row":8,"lvl":"b6","link":1},{"col":33,"row":8,"lvl":"b6","link":1},{"col":34,"row":8,"lvl":"b6"},{"col":35,"row":8,"lvl":"b6","link":1},{"col":36,"row":8,"lvl":"b6","link":1},{"col":37,"row":8,"lvl":"b6"},{"col":38,"row":8,"lvl":"b6","link":1},{"col":39,"row":8,"lvl":"b6","link":1},{"col":40,"row":8,"lvl":"b6"},{"col":41,"row":8,"lvl":"b3","link":1},{"col":42,"row":8,"lvl":"b3","link":1},{"col":43,"row":8,"lvl":"b3"},{"col":44,"row":8,"lvl":"b6","link":1},{"col":45,"row":8,"lvl":"b6","link":1},{"col":46,"row":8,"lvl":"b6"},{"col":47,"row":8,"lvl":"b6","link":1},{"col":48,"row":8,"lvl":"b6","link":1},{"col":49,"row":8,"lvl":"b6"},{"col":50,"row":8,"lvl":"t","link":1},{"col":51,"row":8,"lvl":"t","link":1},{"col":52,"row":8,"lvl":"t"},{"col":53,"row":8,"lvl":"b0","link":1},{"col":54,"row":8,"lvl":"b0","link":1},{"col":55,"row":8,"lvl":"b0"},{"col":56,"row":8,"lvl":"b3","link":1},{"col":57,"row":8,"lvl":"b3","link":1},{"col":58,"row":8,"lvl":"b3"},{"col":59,"row":8,"lvl":"t","link":1},{"col":60,"row":8,"lvl":"t","link":1},{"col":61,"row":8,"lvl":"t"},{"col":62,"row":8,"lvl":"b6","link":1},{"col":63,"row":8,"lvl":"b6","link":1},{"col":64,"row":8,"lvl":"b6"},{"col":65,"row":8,"lvl":"b3","link":1},{"col":66,"row":8,"lvl":"b3","link":1},{"col":67,"row":8,"lvl":"b3"},{"col":68,"row":8,"lvl":"b3","link":1},{"col":69,"row":8,"lvl":"b3","link":1},{"col":70,"row":8,"lvl":"b3"},{"col":71,"row":8,"lvl":"b3","link":1},{"col":72,"row":8,"lvl":"b3","link":1},{"col":73,"row":8,"lvl":"b3"},{"col":74,"row":8,"lvl":"b6","link":1},{"col":75,"row":8,"lvl":"b6","link":1},{"col":76,"row":8,"lvl":"b6"},{"col":77,"row":8,"lvl":"b3","link":1},{"col":78,"row":8,"lvl":"b3","link":1},{"col":79,"row":8,"lvl":"b3"},{"col":80,"row":8,"lvl":"b6","link":1},{"col":81,"row":8,"lvl":"b6"},
{"col":0,"row":9,"lvl":"d0"},{"col":2,"row":9,"lvl":"d4"},{"col":6,"row":9,"lvl":"d10"},{"col":7,"row":9,"lvl":"d11"},{"col":8,"row":9,"lvl":"w"},{"col":9,"row":9,"lvl":"w"},{"col":10,"row":9,"lvl":"w"},{"col":11,"row":9,"lvl":"w"},{"col":12,"row":9,"lvl":"w"},{"col":13,"row":9,"lvl":"w"},{"col":14,"row":9,"lvl":"d11"},{"col":15,"row":9,"lvl":"d10"},{"col":18,"row":9,"lvl":"d4"},{"col":20,"row":9,"lvl":"d1"},{"col":21,"row":9,"lvl":"d0"},{"col":22,"row":9,"lvl":"d0"},{"col":23,"row":9,"lvl":"d0"},{"col":24,"row":9,"lvl":"d0"},{"col":26,"row":9,"lvl":"d4"},{"col":30,"row":9,"lvl":"d10"},{"col":31,"row":9,"lvl":"d11"},{"col":32,"row":9,"lvl":"w"},{"col":33,"row":9,"lvl":"w"},{"col":34,"row":9,"lvl":"w"},{"col":35,"row":9,"lvl":"w"},{"col":36,"row":9,"lvl":"w"},{"col":37,"row":9,"lvl":"w"},{"col":38,"row":9,"lvl":"d11"},{"col":39,"row":9,"lvl":"d10"},{"col":42,"row":9,"lvl":"d4"},{"col":44,"row":9,"lvl":"d1"},{"col":45,"row":9,"lvl":"d0"},{"col":46,"row":9,"lvl":"d0"},{"col":47,"row":9,"lvl":"d0"},{"col":48,"row":9,"lvl":"d0"},{"col":50,"row":9,"lvl":"d4"},{"col":54,"row":9,"lvl":"d10"},{"col":55,"row":9,"lvl":"d11"},{"col":56,"row":9,"lvl":"w"},{"col":57,"row":9,"lvl":"w"},{"col":58,"row":9,"lvl":"w"},{"col":59,"row":9,"lvl":"w"},{"col":60,"row":9,"lvl":"w"},{"col":61,"row":9,"lvl":"w"},{"col":62,"row":9,"lvl":"d11"},{"col":63,"row":9,"lvl":"d10"},{"col":66,"row":9,"lvl":"d4"},{"col":68,"row":9,"lvl":"d1"},{"col":69,"row":9,"lvl":"d0"},{"col":70,"row":9,"lvl":"d0"},{"col":71,"row":9,"lvl":"d0"},{"col":72,"row":9,"lvl":"d0"},{"col":74,"row":9,"lvl":"d4"},{"col":78,"row":9,"lvl":"d10"},{"col":79,"row":9,"lvl":"d11"},{"col":80,"row":9,"lvl":"w"},{"col":81,"row":9,"lvl":"w"},
{"col":0,"row":12,"lvl":"b0"},{"col":1,"row":12,"lvl":"b0"},{"col":2,"row":12,"lvl":"b0"},{"col":3,"row":12,"lvl":"b0"},{"col":4,"row":12,"lvl":"b0"},{"col":5,"row":12,"lvl":"b0"},{"col":6,"row":12,"lvl":"b0"},{"col":7,"row":12,"lvl":"b0"},{"col":8,"row":12,"lvl":"b0"},{"col":9,"row":12,"lvl":"b0"},{"col":10,"row":12,"lvl":"b0"},{"col":11,"row":12,"lvl":"b0"},{"col":12,"row":12,"lvl":"b0"},{"col":13,"row":12,"lvl":"b0"},{"col":14,"row":12,"lvl":"b0"},{"col":15,"row":12,"lvl":"b0"},{"col":16,"row":12,"lvl":"b0"},{"col":17,"row":12,"lvl":"b0"},{"col":18,"row":12,"lvl":"b0"},{"col":19,"row":12,"lvl":"b0"},{"col":20,"row":12,"lvl":"b0"},{"col":21,"row":12,"lvl":"b0"},{"col":22,"row":12,"lvl":"b0"},{"col":23,"row":12,"lvl":"b0"},{"col":24,"row":12,"lvl":"b0"},{"col":25,"row":12,"lvl":"b0"},{"col":26,"row":12,"lvl":"b0"},{"col":27,"row":12,"lvl":"b0"},{"col":28,"row":12,"lvl":"b0"},{"col":29,"row":12,"lvl":"b0"},{"col":30,"row":12,"lvl":"b0"},{"col":31,"row":12,"lvl":"b0"},{"col":32,"row":12,"lvl":"b0"},{"col":33,"row":12,"lvl":"b0"},{"col":34,"row":12,"lvl":"b0"},{"col":35,"row":12,"lvl":"b0"},{"col":36,"row":12,"lvl":"b0"},{"col":37,"row":12,"lvl":"b0"},{"col":38,"row":12,"lvl":"b0"},{"col":39,"row":12,"lvl":"b0"},{"col":40,"row":12,"lvl":"b0"},{"col":41,"row":12,"lvl":"b0"},{"col":42,"row":12,"lvl":"b0"},{"col":43,"row":12,"lvl":"b0"},{"col":44,"row":12,"lvl":"b0"},{"col":45,"row":12,"lvl":"b0"},{"col":46,"row":12,"lvl":"b0"},{"col":47,"row":12,"lvl":"b0"},{"col":48,"row":12,"lvl":"b0"},{"col":49,"row":12,"lvl":"b0"},{"col":50,"row":12,"lvl":"b0"},{"col":51,"row":12,"lvl":"b0"},{"col":52,"row":12,"lvl":"b0"},{"col":53,"row":12,"lvl":"b0"},{"col":54,"row":12,"lvl":"b0"},{"col":55,"row":12,"lvl":"b0"},{"col":56,"row":12,"lvl":"b0"},{"col":57,"row":12,"lvl":"b0"},{"col":58,"row":12,"lvl":"b0"},{"col":59,"row":12,"lvl":"b0"},{"col":60,"row":12,"lvl":"b0"},{"col":61,"row":12,"lvl":"b0"},{"col":62,"row":12,"lvl":"b0"},{"col":63,"row":12,"lvl":"b0"},
{"col":0,"row":13,"lvl":"b0"},{"col":1,"row":13,"lvl":"b0"},{"col":2,"row":13,"lvl":"b0"},{"col":3,"row":13,"lvl":"b0"},{"col":4,"row":13,"lvl":"b0"},{"col":5,"row":13,"lvl":"b0"},{"col":6,"row":13,"lvl":"b0"},{"col":7,"row":13,"lvl":"b0"},{"col":8,"row":13,"lvl":"b0"},{"col":9,"row":13,"lvl":"b0"},{"col":10,"row":13,"lvl":"b0"},{"col":11,"row":13,"lvl":"b0"},{"col":12,"row":13,"lvl":"b0"},{"col":13,"row":13,"lvl":"b0"},{"col":14,"row":13,"lvl":"b0"},{"col":15,"row":13,"lvl":"b0"},{"col":16,"row":13,"lvl":"b0"},{"col":17,"row":13,"lvl":"b0"},{"col":18,"row":13,"lvl":"b0"},{"col":19,"row":13,"lvl":"b0"},{"col":20,"row":13,"lvl":"b0"},{"col":21,"row":13,"lvl":"b0"},{"col":22,"row":13,"lvl":"b0"},{"col":23,"row":13,"lvl":"b0"},{"col":24,"row":13,"lvl":"b0"},{"col":25,"row":13,"lvl":"b0"},{"col":26,"row":13,"lvl":"b0"},{"col":27,"row":13,"lvl":"b0"},{"col":28,"row":13,"lvl":"b0"},{"col":29,"row":13,"lvl":"b0"},{"col":30,"row":13,"lvl":"b0"},{"col":31,"row":13,"lvl":"b0"},{"col":32,"row":13,"lvl":"b0"},{"col":33,"row":13,"lvl":"b0"},{"col":34,"row":13,"lvl":"b0"},{"col":35,"row":13,"lvl":"b0"},{"col":36,"row":13,"lvl":"b0"},{"col":37,"row":13,"lvl":"b0"},{"col":38,"row":13,"lvl":"b0"},{"col":39,"row":13,"lvl":"b0"},{"col":40,"row":13,"lvl":"b0"},{"col":41,"row":13,"lvl":"b0"},{"col":42,"row":13,"lvl":"b0"},{"col":43,"row":13,"lvl":"b0"},{"col":44,"row":13,"lvl":"b0"},{"col":45,"row":13,"lvl":"b0"},{"col":46,"row":13,"lvl":"b0"},{"col":47,"row":13,"lvl":"b0"},{"col":48,"row":13,"lvl":"b0"},{"col":49,"row":13,"lvl":"b0"},{"col":50,"row":13,"lvl":"b0"},{"col":51,"row":13,"lvl":"b0"},{"col":52,"row":13,"lvl":"b0"},{"col":53,"row":13,"lvl":"b0"},{"col":54,"row":13,"lvl":"b0"},{"col":55,"row":13,"lvl":"b0"},{"col":56,"row":13,"lvl":"b0"},{"col":57,"row":13,"lvl":"b0"},{"col":58,"row":13,"lvl":"b0"},{"col":59,"row":13,"lvl":"b0"},{"col":60,"row":13,"lvl":"b0"},{"col":61,"row":13,"lvl":"b0"},{"col":62,"row":13,"lvl":"b0"},{"col":63,"row":13,"lvl":"b0"},{"col":64,"row":13,"lvl":"b0"},{"col":65,"row":13,"lvl":"b0"},{"col":66,"row":13,"lvl":"b0"},{"col":67,"row":13,"lvl":"b0"},{"col":68,"row":13,"lvl":"b0"},{"col":69,"row":13,"lvl":"b0"},{"col":70,"row":13,"lvl":"b0"},{"col":71,"row":13,"lvl":"b0"},{"col":72,"row":13,"lvl":"b0"},{"col":73,"row":13,"lvl":"b0"},{"col":74,"row":13,"lvl":"b0"},{"col":75,"row":13,"lvl":"b0"},{"col":76,"row":13,"lvl":"b0"},{"col":77,"row":13,"lvl":"b0"},{"col":78,"row":13,"lvl":"b0"},{"col":79,"row":13,"lvl":"b0"},{"col":80,"row":13,"lvl":"b0"},{"col":81,"row":13,"lvl":"b0"},
{"col":0,"row":14,"lvl":"h7"},{"col":1,"row":14,"lvl":"h7"},{"col":2,"row":14,"lvl":"h7"},{"col":3,"row":14,"lvl":"ht"},{"col":4,"row":14,"lvl":"h7"},{"col":5,"row":14,"lvl":"b5"},{"col":6,"row":14,"lvl":"b4"},{"col":7,"row":14,"lvl":"b3"},{"col":8,"row":14,"lvl":"b3"},{"col":9,"row":14,"lvl":"b3"},{"col":10,"row":14,"lvl":"b3"},{"col":11,"row":14,"lvl":"b5"},{"col":12,"row":14,"lvl":"b1"},{"col":13,"row":14,"lvl":"b1"},{"col":14,"row":14,"lvl":"b1"},{"col":15,"row":14,"lvl":"h7"},{"col":16,"row":14,"lvl":"h7"},{"col":17,"row":14,"lvl":"b5"},{"col":18,"row":14,"lvl":"hc"},{"col":19,"row":14,"lvl":"ht"},{"col":20,"row":14,"lvl":"h7"},{"col":21,"row":14,"lvl":"h7"},{"col":22,"row":14,"lvl":"h7"},{"col":23,"row":14,"lvl":"ht"},{"col":24,"row":14,"lvl":"ht"},{"col":25,"row":14,"lvl":"hc"},{"col":26,"row":14,"lvl":"hc"},{"col":27,"row":14,"lvl":"hg"},{"col":28,"row":14,"lvl":"hg"},{"col":29,"row":14,"lvl":"hc"},{"col":30,"row":14,"lvl":"h7"},{"col":31,"row":14,"lvl":"b5"},{"col":32,"row":14,"lvl":"b5"},{"col":33,"row":14,"lvl":"b5"},{"col":34,"row":14,"lvl":"b5"},{"col":35,"row":14,"lvl":"b5"},{"col":36,"row":14,"lvl":"b5"},{"col":37,"row":14,"lvl":"b5"},{"col":38,"row":14,"lvl":"b3"},{"col":39,"row":14,"lvl":"hy"},{"col":40,"row":14,"lvl":"hy"},{"col":41,"row":14,"lvl":"hl"},{"col":42,"row":14,"lvl":"hg"},{"col":43,"row":14,"lvl":"hg"},{"col":44,"row":14,"lvl":"hy"},{"col":45,"row":14,"lvl":"hy"},{"col":46,"row":14,"lvl":"hy"},{"col":47,"row":14,"lvl":"hy"},{"col":48,"row":14,"lvl":"hy"},{"col":49,"row":14,"lvl":"ho"},{"col":50,"row":14,"lvl":"hr"},{"col":51,"row":14,"lvl":"hr"},{"col":52,"row":14,"lvl":"ho"},{"col":53,"row":14,"lvl":"ha"},{"col":54,"row":14,"lvl":"hl"},{"col":55,"row":14,"lvl":"hg"},{"col":56,"row":14,"lvl":"hc"},{"col":57,"row":14,"lvl":"hl"},{"col":58,"row":14,"lvl":"hg"},{"col":59,"row":14,"lvl":"hc"},{"col":60,"row":14,"lvl":"hl"},{"col":61,"row":14,"lvl":"hc"},{"col":62,"row":14,"lvl":"hc"},{"col":63,"row":14,"lvl":"hc"},{"col":64,"row":14,"lvl":"hc"},{"col":65,"row":14,"lvl":"hg"},{"col":66,"row":14,"lvl":"hy"},{"col":67,"row":14,"lvl":"ha"},{"col":68,"row":14,"lvl":"ha"},{"col":69,"row":14,"lvl":"hn"},{"col":70,"row":14,"lvl":"ho"},{"col":71,"row":14,"lvl":"ho"},{"col":72,"row":14,"lvl":"ho"},{"col":73,"row":14,"lvl":"ho"},{"col":74,"row":14,"lvl":"ho"},{"col":75,"row":14,"lvl":"ho"},{"col":76,"row":14,"lvl":"hn"},{"col":77,"row":14,"lvl":"ha"},{"col":78,"row":14,"lvl":"hg"},{"col":79,"row":14,"lvl":"hc"},{"col":80,"row":14,"lvl":"hc"},{"col":81,"row":14,"lvl":"ht"},
{"col":0,"row":15,"lvl":"o"},{"col":1,"row":15,"lvl":"o"},{"col":2,"row":15,"lvl":"o"},{"col":3,"row":15,"lvl":"o"},{"col":4,"row":15,"lvl":"o"},{"col":5,"row":15,"lvl":"r1"},{"col":6,"row":15,"lvl":"r1"},{"col":7,"row":15,"lvl":"r1"},{"col":8,"row":15,"lvl":"r2"},{"col":9,"row":15,"lvl":"r2"},{"col":10,"row":15,"lvl":"r2"},{"col":11,"row":15,"lvl":"r2"},{"col":12,"row":15,"lvl":"r2"},{"col":13,"row":15,"lvl":"r2"},{"col":14,"row":15,"lvl":"r2"},{"col":15,"row":15,"lvl":"r2"},{"col":16,"row":15,"lvl":"r1"},{"col":17,"row":15,"lvl":"r1"},{"col":18,"row":15,"lvl":"r1"},{"col":19,"row":15,"lvl":"r1"},{"col":20,"row":15,"lvl":"r1"},{"col":21,"row":15,"lvl":"r1"},{"col":22,"row":15,"lvl":"r1"},{"col":23,"row":15,"lvl":"o"},{"col":24,"row":15,"lvl":"o"},{"col":25,"row":15,"lvl":"o"},{"col":26,"row":15,"lvl":"o"},{"col":27,"row":15,"lvl":"o"},{"col":28,"row":15,"lvl":"o"},{"col":29,"row":15,"lvl":"o"},{"col":30,"row":15,"lvl":"r1"},{"col":31,"row":15,"lvl":"r1"},{"col":32,"row":15,"lvl":"r1"},{"col":33,"row":15,"lvl":"r2"},{"col":34,"row":15,"lvl":"r2"},{"col":35,"row":15,"lvl":"r2"},{"col":36,"row":15,"lvl":"r2"},{"col":37,"row":15,"lvl":"r2"},{"col":38,"row":15,"lvl":"r2"},{"col":39,"row":15,"lvl":"r1"},{"col":40,"row":15,"lvl":"o"},{"col":41,"row":15,"lvl":"o"},{"col":42,"row":15,"lvl":"o"},{"col":43,"row":15,"lvl":"o"},{"col":44,"row":15,"lvl":"o"},{"col":45,"row":15,"lvl":"o"},{"col":46,"row":15,"lvl":"o"},{"col":47,"row":15,"lvl":"o"},{"col":48,"row":15,"lvl":"o"},{"col":49,"row":15,"lvl":"a"},{"col":50,"row":15,"lvl":"a"},{"col":51,"row":15,"lvl":"a"},{"col":52,"row":15,"lvl":"a"},{"col":53,"row":15,"lvl":"o"},{"col":54,"row":15,"lvl":"o"},{"col":55,"row":15,"lvl":"o"},{"col":56,"row":15,"lvl":"r1"},{"col":57,"row":15,"lvl":"r1"},{"col":58,"row":15,"lvl":"r1"},{"col":59,"row":15,"lvl":"r1"},{"col":60,"row":15,"lvl":"r1"},{"col":61,"row":15,"lvl":"r1"},{"col":62,"row":15,"lvl":"r1"},{"col":63,"row":15,"lvl":"r1"},{"col":64,"row":15,"lvl":"r1"},{"col":65,"row":15,"lvl":"r1"},{"col":66,"row":15,"lvl":"o"},{"col":67,"row":15,"lvl":"o"},{"col":68,"row":15,"lvl":"o"},{"col":69,"row":15,"lvl":"o"},{"col":70,"row":15,"lvl":"o"},{"col":71,"row":15,"lvl":"a"},{"col":72,"row":15,"lvl":"a"},{"col":73,"row":15,"lvl":"a"},{"col":74,"row":15,"lvl":"a"},{"col":75,"row":15,"lvl":"a"},{"col":76,"row":15,"lvl":"a"},{"col":77,"row":15,"lvl":"o"},{"col":78,"row":15,"lvl":"o"},{"col":79,"row":15,"lvl":"r1"},{"col":80,"row":15,"lvl":"r1"},{"col":81,"row":15,"lvl":"r1"},
{"col":0,"row":22.25,"lvl":"b5","link":1},{"col":1,"row":22.25,"lvl":"b5"},{"col":2,"row":22.25,"lvl":"b5","link":1},{"col":3,"row":22.25,"lvl":"b5"},{"col":4,"row":22.25,"lvl":"b2","link":1},{"col":5,"row":22.25,"lvl":"b2"},{"col":6,"row":22.25,"lvl":"b0","link":1},{"col":7,"row":22.25,"lvl":"b0"},{"col":8,"row":22.25,"lvl":"b2","link":1},{"col":9,"row":22.25,"lvl":"b2"},{"col":10,"row":22.25,"lvl":"b5","link":1},{"col":11,"row":22.25,"lvl":"b5"},{"col":12,"row":22.25,"lvl":"b3","link":1},{"col":13,"row":22.25,"lvl":"b3"},{"col":14,"row":22.25,"lvl":"b2","link":1},{"col":15,"row":22.25,"lvl":"b2"},{"col":16,"row":22.25,"lvl":"b5","link":1},{"col":17,"row":22.25,"lvl":"b5"},{"col":18,"row":22.25,"lvl":"f","link":1},{"col":19,"row":22.25,"lvl":"f"},{"col":20,"row":22.25,"lvl":"b6","link":1},{"col":21,"row":22.25,"lvl":"b6"},{"col":22,"row":22.25,"lvl":"b1","link":1},{"col":23,"row":22.25,"lvl":"b1"},{"col":24,"row":22.25,"lvl":"b2","link":1},{"col":25,"row":22.25,"lvl":"b2"},{"col":26,"row":22.25,"lvl":"b3","link":1},{"col":27,"row":22.25,"lvl":"b3"},{"col":28,"row":22.25,"lvl":"b2","link":1},{"col":29,"row":22.25,"lvl":"b2"},{"col":30,"row":22.25,"lvl":"b2","link":1},{"col":31,"row":22.25,"lvl":"b2"},{"col":32,"row":22.25,"lvl":"b3","link":1},{"col":33,"row":22.25,"lvl":"b3"},{"col":34,"row":22.25,"lvl":"b7","link":1},{"col":35,"row":22.25,"lvl":"b7"},{"col":36,"row":22.25,"lvl":"b1","link":1},{"col":37,"row":22.25,"lvl":"b1"},{"col":38,"row":22.25,"lvl":"b1","link":1},{"col":39,"row":22.25,"lvl":"b1"},{"col":40,"row":22.25,"lvl":"b1","link":1},{"col":41,"row":22.25,"lvl":"b1"},{"col":42,"row":22.25,"lvl":"b6","link":1},{"col":43,"row":22.25,"lvl":"b6"},{"col":44,"row":22.25,"lvl":"b1","link":1},{"col":45,"row":22.25,"lvl":"b1"},{"col":46,"row":22.25,"lvl":"b1","link":1},{"col":47,"row":22.25,"lvl":"b1"},
{"col":6,"row":23.25,"lvl":"d11"},{"col":7,"row":23.25,"lvl":"w"},{"col":14,"row":23.25,"lvl":"d11"},{"col":15,"row":23.25,"lvl":"w"},{"col":22,"row":23.25,"lvl":"d11"},{"col":23,"row":23.25,"lvl":"w"},{"col":26,"row":23.25,"lvl":"d4"},{"col":30,"row":23.25,"lvl":"d11"},{"col":31,"row":23.25,"lvl":"w"},{"col":34,"row":23.25,"lvl":"d4"},{"col":38,"row":23.25,"lvl":"d11"},{"col":39,"row":23.25,"lvl":"w"},{"col":42,"row":23.25,"lvl":"d4"},{"col":43,"row":23.25,"lvl":"d5"},{"col":46,"row":23.25,"lvl":"d11"},{"col":47,"row":23.25,"lvl":"w"}
]
}
}
